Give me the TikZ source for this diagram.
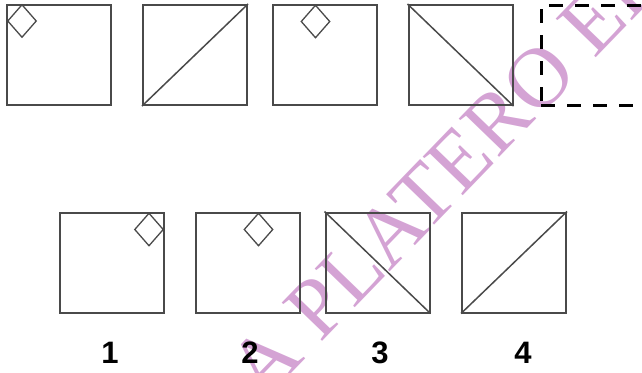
\documentclass[tikz,border=0pt]{standalone}
\usepackage{fontspec}
\setmainfont{Liberation Sans}
\newfontfamily\wmfont{Liberation Serif}
\definecolor{sqline}{HTML}{4A4A4A}
\definecolor{wmpink}{HTML}{D4A3D4}
\usetikzlibrary{shapes.geometric}

\begin{document}
\begin{tikzpicture}[x=1pt,y=-1pt,
  sq/.style={draw=sqline,line width=2pt,minimum width=104pt,minimum height=100pt,inner sep=0pt},
  gapbox/.style={draw=black,line width=3pt,dash pattern=on 14pt off 12pt,
    minimum width=104pt,minimum height=100pt,inner sep=0pt},
  dia/.style={diamond,draw=sqline,line width=1.3pt,minimum width=29pt,minimum height=33pt,inner sep=0pt},
  diag/.style={draw=sqline,line width=1.5pt},
  num/.style={font=\bfseries\fontsize{31}{31}\selectfont},
  wm/.style={text=wmpink,font=\wmfont\fontsize{85}{85}\selectfont,rotate=46,
    anchor=base west,inner sep=0pt}]
  \clip (0,0) rectangle (642,372);
  % watermark behind everything
  \node[wm] (mark) at (263,403) {A PLATERO ED};
  % top row: the sequence
  \node[sq] (a) at (58.5,55) {};
  \node[sq] (b) at (195,55) {};
  \node[sq] (c) at (325,55) {};
  \node[sq] (d) at (460.5,55) {};
  \node[gapbox] (e) at (593,55) {};
  \node[dia] (da) at (22,21) {};
  \draw[diag] (b.south west) -- (b.north east);
  \node[dia] (dc) at (315.5,21.5) {};
  \draw[diag] (d.north west) -- (d.south east);
  % bottom row: the choices
  \node[sq] (o1) at (111.5,262.5) {};
  \node[sq] (o2) at (247.5,262.5) {};
  \node[sq] (o3) at (377.5,262.5) {};
  \node[sq] (o4) at (514,262.5) {};
  \node[dia] (d1) at (149,229.5) {};
  \node[dia] (d2) at (258.5,229.5) {};
  \draw[diag] (o3.north west) -- (o3.south east);
  \draw[diag] (o4.south west) -- (o4.north east);
  \node[num] (n1) at (110,353) {1};
  \node[num] (n2) at (250,353) {2};
  \node[num] (n3) at (380,353) {3};
  \node[num] (n4) at (523,353) {4};
\end{tikzpicture}
\end{document}
